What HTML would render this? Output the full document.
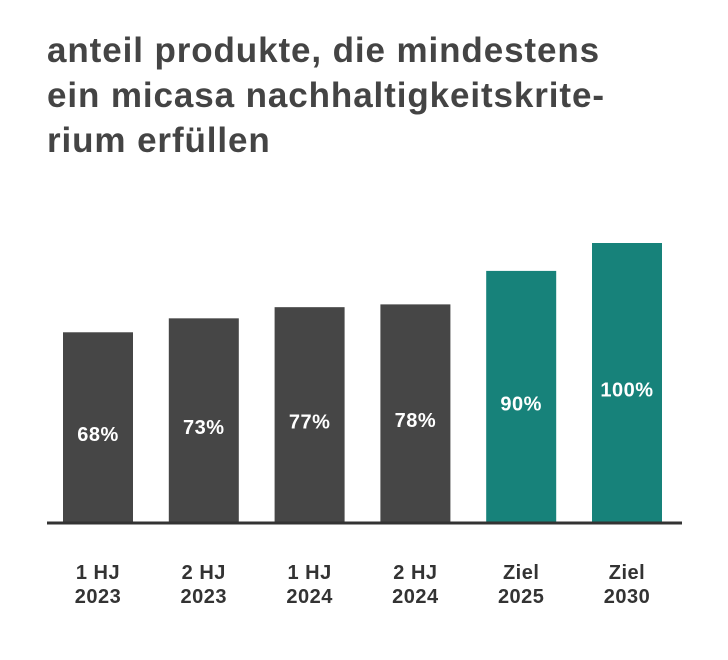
<!DOCTYPE html>
<html><head><meta charset="utf-8">
<style>
body{margin:0;background:#fff;width:728px;height:660px;overflow:hidden;font-family:"Liberation Sans",sans-serif;}
#title{position:absolute;left:47px;top:28px;font-size:35px;font-weight:bold;color:#444;line-height:45px;letter-spacing:0.9px;white-space:nowrap;}
svg{position:absolute;left:0;top:0;}
</style></head>
<body>
<div id="title">anteil produkte, die mindestens<br>ein micasa nachhaltigkeitskrite-<br>rium erfüllen</div>
<svg id="chart" width="728" height="660"></svg>
<script>
const categories=[["1 HJ","2023"],["2 HJ","2023"],["1 HJ","2024"],["2 HJ","2024"],["Ziel","2025"],["Ziel","2030"]];
const values=[68,73,77,78,90,100];
const valueLabels=["68%","73%","77%","78%","90%","100%"];
const isTarget=[false,false,false,false,true,true];
const svg=document.getElementById('chart');
const NS='http://www.w3.org/2000/svg';
const base=522, scale=2.79, x0=63, step=105.8, bw=70;
function y(v){return base-v*scale;}
function xb(i){return x0+i*step;}
values.forEach((v,i)=>{
  const r=document.createElementNS(NS,'rect');
  r.setAttribute('x',xb(i));r.setAttribute('y',y(v));
  r.setAttribute('width',bw);r.setAttribute('height',base-y(v));
  r.setAttribute('fill',isTarget[i]?'#17827a':'#464646');
  
  
  svg.appendChild(r);
  const t=document.createElementNS(NS,'text');
  t.setAttribute('x',xb(i)+bw/2);t.setAttribute('y',(y(v)+base)/2+14);
  t.setAttribute('text-anchor','middle');t.setAttribute('fill','#fff');
  t.setAttribute('font-size','20');t.setAttribute('font-weight','bold');
  t.setAttribute('letter-spacing','0.5');
  t.textContent=valueLabels[i];
  
  
  svg.appendChild(t);
  categories[i].forEach((s,j)=>{
    const c=document.createElementNS(NS,'text');
    c.setAttribute('x',xb(i)+bw/2);c.setAttribute('y',579+j*24);
    c.setAttribute('text-anchor','middle');c.setAttribute('fill','#333');
    c.setAttribute('font-size','20');c.setAttribute('font-weight','bold');
    c.setAttribute('letter-spacing','0.5');
    c.textContent=s;
    
    
    svg.appendChild(c);
  });
});
const ax=document.createElementNS(NS,'line');
ax.setAttribute('x1',47);ax.setAttribute('x2',682);ax.setAttribute('y1',base+1);ax.setAttribute('y2',base+1);
ax.setAttribute('stroke','#333');ax.setAttribute('stroke-width','3');


svg.appendChild(ax);
</script>
</body></html>
